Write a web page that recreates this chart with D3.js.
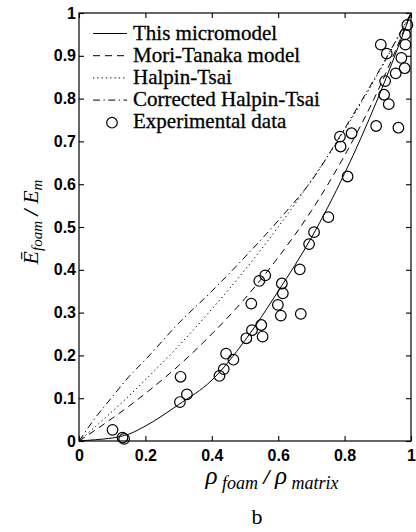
<!DOCTYPE html>
<html><head><meta charset="utf-8">
<script src="https://cdn.jsdelivr.net/npm/d3@7"></script>
<style>
html,body{margin:0;padding:0;background:#fff;}
svg{display:block;}
</style>
</head><body>
<svg id="chart" width="416" height="532"></svg>
<script>
// ---- data ----
const rhoGrid = [0, 0.05, 0.1, 0.15, 0.2, 0.3, 0.4, 0.5, 0.6, 0.7, 0.8, 0.9, 1.0];
const micromodel = [0, 0.003, 0.007, 0.016, 0.035, 0.085, 0.142, 0.235, 0.35, 0.475, 0.625, 0.80, 1.0];
const moriTanaka = [0, 0.026, 0.053, 0.081, 0.111, 0.176, 0.25, 0.333, 0.429, 0.538, 0.667, 0.818, 1.0];
const halpinTsai = [0, 0.034, 0.069, 0.105, 0.143, 0.222, 0.308, 0.40, 0.50, 0.609, 0.727, 0.857, 1.0];
const correctedHT = [0, 0.055, 0.103, 0.15, 0.19, 0.275, 0.35, 0.43, 0.515, 0.608, 0.73, 0.86, 1.0];

const expRho = [0.101, 0.131, 0.136, 0.304, 0.325, 0.306, 0.423, 0.436, 0.443, 0.465, 0.504, 0.521, 0.549, 0.553,
  0.519, 0.543, 0.561, 0.611, 0.614, 0.599, 0.608, 0.668, 0.665, 0.693, 0.708, 0.751, 0.809, 0.786, 0.788, 0.821,
  0.895, 0.962, 0.909, 0.927, 0.922, 0.919, 0.933, 0.954, 0.971, 0.981, 0.983, 0.982, 0.989];
const expE = [0.026, 0.008, 0.005, 0.091, 0.109, 0.150, 0.152, 0.168, 0.204, 0.190, 0.240, 0.259, 0.271, 0.244,
  0.321, 0.374, 0.387, 0.368, 0.345, 0.318, 0.293, 0.297, 0.401, 0.460, 0.488, 0.523, 0.618, 0.711, 0.688, 0.719,
  0.736, 0.732, 0.926, 0.905, 0.841, 0.809, 0.787, 0.859, 0.895, 0.871, 0.926, 0.950, 0.972];

const xTicks = [0, 0.2, 0.4, 0.6, 0.8, 1];
const xTickLabels = ["0", "0.2", "0.4", "0.6", "0.8", "1"];
const yTicks = [0, 0.1, 0.2, 0.3, 0.4, 0.5, 0.6, 0.7, 0.8, 0.9, 1];
const yTickLabels = ["0", "0.1", "0.2", "0.3", "0.4", "0.5", "0.6", "0.7", "0.8", "0.9", "1"];

const seriesNames = ["This micromodel", "Mori-Tanaka model", "Halpin-Tsai", "Corrected Halpin-Tsai", "Experimental data"];

// ---- drawing ----
const svg = d3.select("#chart");
const L = 79, R = 411, T = 13, B = 441;
const x = d3.scaleLinear().domain([0, 1]).range([L, R]);
const y = d3.scaleLinear().domain([0, 1]).range([B, T]);

const tickFont = "'Liberation Sans', Arial, sans-serif";
const serif = "'Liberation Serif', 'Times New Roman', serif";

// axes with inward ticks
function styleAxis(g){
  g.select(".domain").remove();
  g.selectAll(".tick line").attr("stroke", "#000").attr("stroke-width", 1.1);
  g.selectAll(".tick text").attr("fill", "#000").attr("font-family", tickFont)
    .attr("font-size", 16).attr("font-weight", "bold");
}
svg.append("g").attr("transform", `translate(0,${B})`)
  .call(d3.axisBottom(x).tickValues(xTicks).tickSizeInner(-5).tickSizeOuter(0).tickPadding(9)
    .tickFormat((d, i) => xTickLabels[i]))
  .call(styleAxis);
svg.append("g").attr("transform", `translate(${L},0)`)
  .call(d3.axisLeft(y).tickValues(yTicks).tickSizeInner(-5).tickSizeOuter(0).tickPadding(3)
    .tickFormat((d, i) => yTickLabels[i]))
  .call(styleAxis);
svg.append("g").attr("transform", `translate(0,${T})`)
  .call(d3.axisTop(x).tickValues(xTicks).tickSizeInner(-5).tickSizeOuter(0).tickFormat(""))
  .call(styleAxis);
svg.append("g").attr("transform", `translate(${R},0)`)
  .call(d3.axisRight(y).tickValues(yTicks).tickSizeInner(-5).tickSizeOuter(0).tickFormat(""))
  .call(styleAxis);

// frame
svg.append("rect").attr("x", L).attr("y", T).attr("width", R - L).attr("height", B - T)
  .attr("fill", "none").attr("stroke", "#000").attr("stroke-width", 1.2);

// curves
const line = d3.line().x(d => x(d[0])).y(d => y(d[1])).curve(d3.curveMonotoneX);
const curves = [
  {vals: micromodel, dash: null},
  {vals: moriTanaka, dash: "7,5"},
  {vals: halpinTsai, dash: "1.3,3"},
  {vals: correctedHT, dash: "7,3.5,1.3,3.5"}
];
const plot = svg.append("g");
curves.forEach(c => {
  plot.append("path")
    .datum(rhoGrid.map((r, i) => [r, c.vals[i]]))
    .attr("d", line)
    .attr("fill", "none").attr("stroke", "#000").attr("stroke-width", 1)
    .attr("stroke-dasharray", c.dash);
});

// experimental points
plot.selectAll("circle.exp").data(expRho.map((r, i) => [r, expE[i]]))
  .join("circle").attr("class", "exp")
  .attr("cx", d => x(d[0])).attr("cy", d => y(d[1])).attr("r", 5.3)
  .attr("fill", "none").attr("stroke", "#000").attr("stroke-width", 1.2);

// legend
const leg = svg.append("g");
const legX0 = 93, legX1 = 127, legTextX = 133, legBase0 = 39.5, legStep = 22.2;
seriesNames.forEach((name, i) => {
  const base = legBase0 + i * legStep;
  const my = base - 6;
  if (i < 4) {
    leg.append("line").attr("x1", legX0).attr("x2", legX1).attr("y1", my).attr("y2", my)
      .attr("stroke", "#000").attr("stroke-width", 1)
      .attr("stroke-dasharray", curves[i].dash);
  } else {
    leg.append("circle").attr("cx", 112).attr("cy", base - 5.6).attr("r", 5.3)
      .attr("fill", "none").attr("stroke", "#000").attr("stroke-width", 1.2);
  }
  leg.append("text").attr("x", legTextX).attr("y", base)
    .attr("font-family", serif).attr("font-size", 21).attr("fill", "#000")
    .attr("stroke", "#000").attr("stroke-width", 0.3).text(name);
});

// y label
const yl = svg.append("text").attr("transform", "translate(38,222) rotate(-90)")
  .attr("text-anchor", "middle").attr("font-family", serif).attr("font-style", "italic").attr("fill", "#000");
yl.append("tspan").attr("font-size", 22).text("Ē");
yl.append("tspan").attr("font-size", 15).attr("dy", 4).text("foam");
yl.append("tspan").attr("font-size", 22).attr("dy", -4).attr("font-weight", "bold").text(" / ");
yl.append("tspan").attr("font-size", 22).text("E");
yl.append("tspan").attr("font-size", 15).attr("dy", 4).text("m");

// x label
const xl = svg.append("text").attr("x", 272).attr("y", 484).attr("text-anchor", "middle")
  .attr("font-family", serif).attr("font-style", "italic").attr("fill", "#000");
xl.append("tspan").attr("font-size", 25).text("ρ");
xl.append("tspan").attr("font-size", 18).attr("dy", 5).text(" foam");
xl.append("tspan").attr("font-size", 22).attr("dy", -5).attr("font-weight", "bold").text(" / ");
xl.append("tspan").attr("font-size", 25).text("ρ");
xl.append("tspan").attr("font-size", 18).attr("dy", 5).text(" matrix");

// panel letter
svg.append("text").attr("x", 257).attr("y", 524).attr("text-anchor", "middle")
  .attr("font-family", serif).attr("font-size", 22).attr("fill", "#000").text("b");
</script>
</body></html>
